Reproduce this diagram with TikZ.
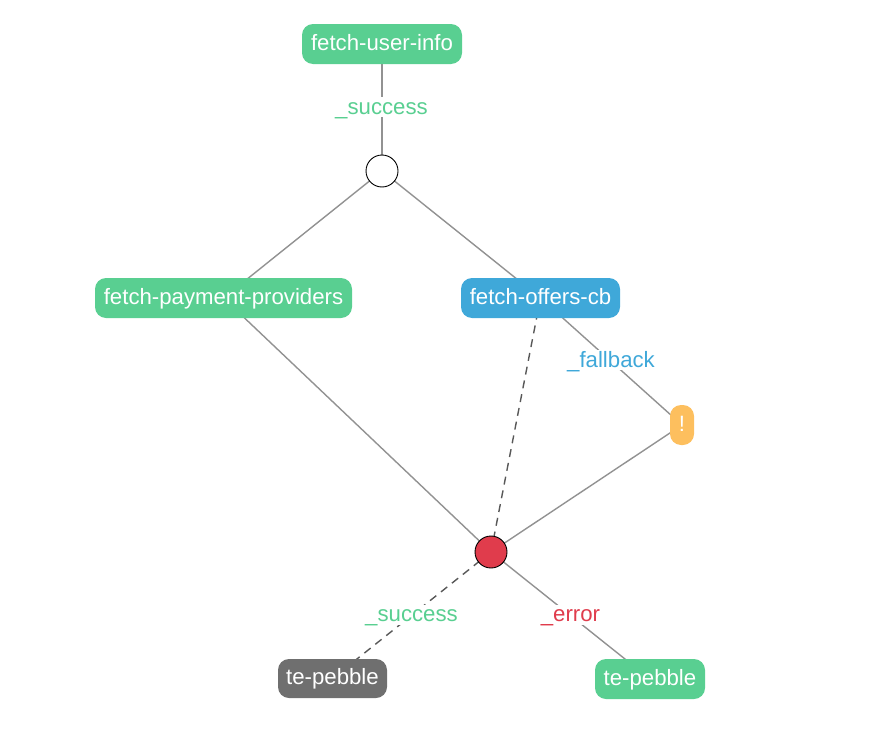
\documentclass[tikz,border=0pt]{standalone}
\usepackage{fontspec}
\setmainfont{Liberation Sans}
\usetikzlibrary{backgrounds}
\definecolor{cgreen}{HTML}{59CF91}
\definecolor{cblue}{HTML}{3FA8D9}
\definecolor{corange}{HTML}{FDBF5E}
\definecolor{cred}{HTML}{E03C4C}
\definecolor{cgray}{HTML}{6F6F6F}
\definecolor{cline}{HTML}{929292}
\definecolor{cdash}{HTML}{585858}
\tikzset{
  x=1pt,y=-1pt,
  box/.style={rounded corners=11pt,inner sep=0pt,text=white,font=\fontsize{22.2}{24}\selectfont,text height=16pt,text depth=4pt,anchor=center},
  gate/.style={circle,draw=black,line width=0.9pt,minimum size=32pt,inner sep=0pt},
  link/.style={draw=cline,line width=1.4pt},
  dashlink/.style={draw=cdash,line width=1.4pt,dash pattern=on 8pt off 6pt},
  lab/.style={font=\fontsize{22.2}{24}\selectfont,inner sep=0pt,anchor=center,fill=white,text height=17pt,text depth=3pt}
}
\begin{document}
\begin{tikzpicture}
\useasboundingbox (0,0) rectangle (884,736);
\node[box,fill=cgreen,minimum width=160pt,minimum height=40pt] (user) at (382,44) {fetch-user-info};
\node[gate,fill=white] (join) at (382,171) {};
\node[box,fill=cgreen,minimum width=257pt,minimum height=40pt] (pay) at (223.5,298) {fetch-payment-providers};
\node[box,fill=cblue,minimum width=159pt,minimum height=40pt] (offers) at (540.5,298) {fetch-offers-cb};
\node[box,fill=corange,minimum width=24pt,minimum height=40pt] (warn) at (682,425) {!};
\node[gate,fill=cred] (hub) at (491,552) {};
\node[box,fill=cgray,minimum width=109pt,minimum height=39pt] (pebgray) at (332.5,678.5) {te-pebble};
\node[box,fill=cgreen,minimum width=110pt,minimum height=40pt] (pebgreen) at (650,679) {te-pebble};
\begin{scope}[on background layer]
\draw[link] (user.center) -- (join.center);
\draw[link] (join.center) -- (pay.center);
\draw[link] (join.center) -- (offers.center);
\draw[link] (pay.center) -- (hub.center);
\draw[dashlink] (offers.center) -- (hub.center);
\draw[link] (offers.center) -- (warn.center);
\draw[link] (warn.center) -- (hub.center);
\draw[dashlink] (hub.center) -- (pebgray.center);
\draw[link] (hub.center) -- (pebgreen.center);
\end{scope}
\node[lab,text=cgreen] (l1) at (381.5,107) {\_success};
\node[lab,text=cblue] (l2) at (611,360) {\_fallback};
\node[lab,text=cgreen] (l3) at (411.5,614.7) {\_success};
\node[lab,text=cred] (l4) at (570.5,614.7) {\_error};
\end{tikzpicture}
\end{document}
